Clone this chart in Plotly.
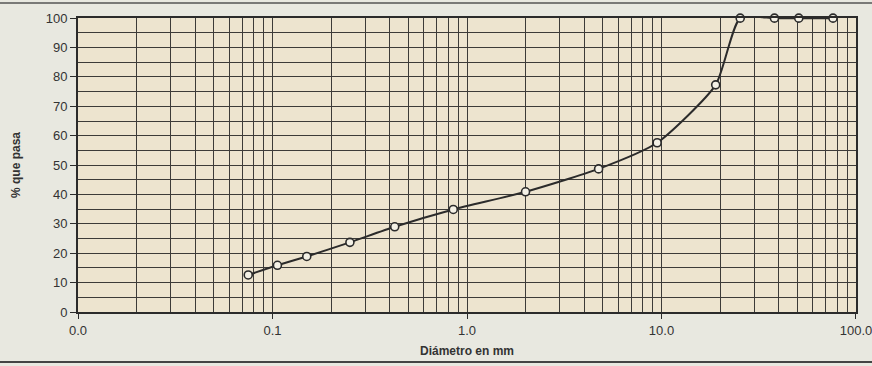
import plotly.graph_objects as go

# Curva granulométrica
diametro_mm = [0.075, 0.106, 0.15, 0.25, 0.425, 0.85, 2.0, 4.75, 9.5, 19.0, 25.4, 38.1, 50.8, 76.2]
pct_pasa = [12.6, 15.9, 18.9, 23.7, 29.0, 34.9, 40.9, 48.7, 57.6, 77.3, 100, 100, 100, 100]

x_ticks = [0.01, 0.1, 1, 10, 100]
x_ticktext = ["0.0", "0.1", "1.0", "10.0", "100.0"]
y_ticks = [0, 10, 20, 30, 40, 50, 60, 70, 80, 90, 100]

# grid secundario log (2..9 en cada década)
x_minor = [m * d for d in [0.01, 0.1, 1, 10] for m in range(2, 10)]

ink = "#2b2b2b"
grid = "#3c3b38"

fig = go.Figure()
fig.add_trace(go.Scatter(
    x=diametro_mm, y=pct_pasa,
    mode="lines+markers",
    line=dict(color=ink, width=2, shape="spline", smoothing=0.6),
    marker=dict(symbol="circle", size=8, color="#f4f1e6",
                line=dict(color=ink, width=1.6)),
    showlegend=False,
    cliponaxis=False,
))

font_main = "Liberation Sans, Arial, sans-serif"

fig.update_xaxes(
    type="log",
    range=[-2.0002, 2.0002],
    tickvals=x_ticks,
    ticktext=x_ticktext,
    ticklabeloverflow="allow",
    ticks="outside", ticklen=5, tickcolor=ink, tickwidth=1,
    showgrid=True, gridcolor=grid, gridwidth=1.2,
    minor=dict(tickvals=x_minor, showgrid=True, gridcolor=grid, gridwidth=1.2, ticks=""),
    showline=True, linecolor=ink, linewidth=2, mirror=True,
    tickfont=dict(family=font_main, size=13, color="#333333"),
    title=dict(text="<b>Diámetro en mm</b>", standoff=10,
               font=dict(family=font_main, size=12, color="#333333")),
    zeroline=False,
    automargin=False,
)
fig.update_yaxes(
    range=[0, 100.05],
    tickvals=y_ticks,
    ticks="outside", ticklen=6, tickcolor=ink, tickwidth=1,
    showgrid=True, gridcolor=grid, gridwidth=1.2,
    minor=dict(dtick=5, showgrid=True, gridcolor=grid, gridwidth=1.2, ticks=""),
    showline=True, linecolor=ink, linewidth=2, mirror=True,
    tickfont=dict(family=font_main, size=13, color="#333333"),
    title=dict(text="<b>% que pasa</b>", standoff=22,
               font=dict(family=font_main, size=12, color="#333333")),
    zeroline=False,
    automargin=False,
)

# bordes de la hoja escaneada
fig.add_shape(type="line", xref="paper", yref="paper", x0=-0.2, x1=1.1,
              y0=1.051, y1=1.051, line=dict(color="#555555", width=1.5))
fig.add_shape(type="line", xref="paper", yref="paper", x0=-0.2, x1=1.1,
              y0=-0.170, y1=-0.170, line=dict(color="#444444", width=2))

fig.update_layout(
    width=872, height=366,
    margin=dict(l=78, r=16, t=18, b=54),
    paper_bgcolor="#e8e8e0",
    plot_bgcolor="#ede4cf",
    font=dict(family=font_main),
)

fig.write_html("out.html", config={"displayModeBar": False},
               post_script="document.body.style.margin='0';")
